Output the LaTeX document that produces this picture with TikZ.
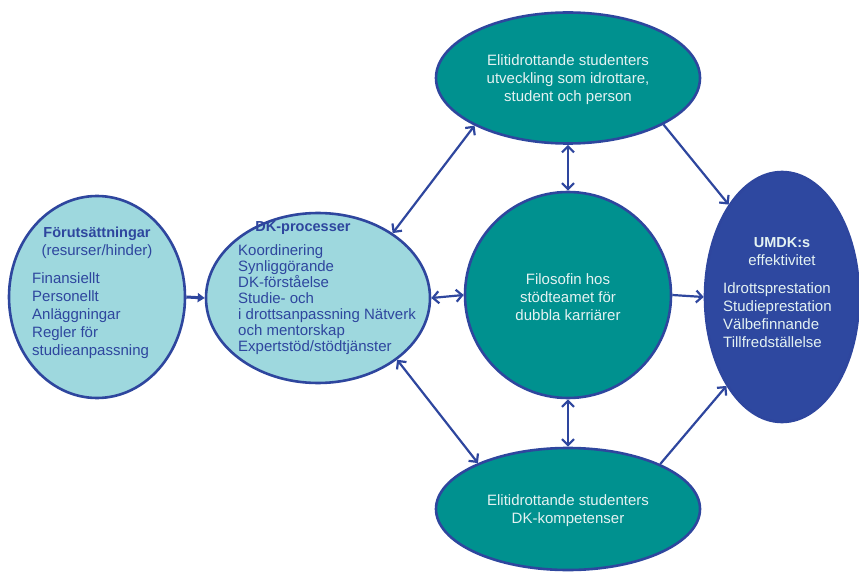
\documentclass[tikz,border=0pt]{standalone}
\usepackage{fontspec}
\setmainfont{Liberation Sans}
\usetikzlibrary{shapes.geometric,arrows.meta}

\definecolor{edgeblue}{RGB}{46,70,158}
\definecolor{lightfill}{RGB}{158,216,222}
\definecolor{tealfill}{RGB}{0,145,143}
\definecolor{deepblue}{RGB}{46,72,160}
\definecolor{paletext}{RGB}{228,242,242}

\newcommand{\plainline}{\fontsize{15}{18}\selectfont\mdseries}

\tikzset{
  blob/.style={ellipse, draw=edgeblue, line width=2.6pt, inner sep=0pt},
  lightblob/.style={blob, fill=lightfill},
  tealblob/.style={blob, fill=tealfill},
  deepblob/.style={blob, fill=deepblue},
  darktxt/.style={text=edgeblue, inner sep=0pt, font=\fontsize{15}{18}\selectfont},
  paletxt/.style={text=paletext, inner sep=0pt, font=\fontsize{15}{18}\selectfont, align=center},
  head/.style={font=\fontsize{14.5}{18}\selectfont\bfseries},
  link/.style={draw=edgeblue, line width=2.2pt, {Straight Barb[length=6pt,width=12pt]}-{Straight Barb[length=6pt,width=12pt]}},
  oneway/.style={draw=edgeblue, line width=2.2pt, -{Straight Barb[length=6pt,width=12pt]}},
  feed/.style={draw=edgeblue, line width=3pt, -{Triangle[length=7pt,width=9pt]}}
}

\begin{document}
\begin{tikzpicture}[x=1pt,y=-1pt]
\useasboundingbox (0,0) rectangle (859,572);

% shapes
\node[lightblob, minimum width=176pt, minimum height=202pt] (pre) at (97,297) {};
\node[lightblob, minimum width=224pt, minimum height=170pt] (dk) at (318,298) {};
\node[tealblob, minimum width=264pt, minimum height=131pt] (dev) at (568,78) {};
\node[tealblob, minimum width=264pt, minimum height=122pt] (comp) at (568,509) {};
\node[circle, draw=edgeblue, line width=2.6pt, fill=tealfill, minimum size=206pt, inner sep=0pt] (phil) at (568,295) {};
\node[deepblob, minimum width=154pt, minimum height=250pt] (eff) at (782,297) {};

% texts
\node[darktxt, head, align=center] (preh) at (97,243) {Förutsättningar\\\plainline(resurser/hinder)};
\node[darktxt, align=left, anchor=west] (prel) at (32,316) {Finansiellt\\Personellt\\Anläggningar\\Regler för\\studieanpassning};

\node[darktxt, head] (dkh) at (303,228) {DK-processer};
\node[darktxt, align=left, anchor=west, font=\fontsize{15}{16}\selectfont] (dkl) at (238,300)
  {Koordinering\\Synliggörande\\DK-förståelse\\Studie- och\\i drottsanpassning Nätverk\\och mentorskap\\Expertstöd/stödtjänster};

\node[paletxt] (devt) at (568,80) {Elitidrottande studenters\\utveckling som idrottare,\\student och person};
\node[paletxt] (philt) at (568,297) {Filosofin hos\\stödteamet för\\dubbla karriärer};
\node[paletxt] (compt) at (568,511) {Elitidrottande studenters\\DK-kompetenser};

\node[paletxt, head] (effh) at (782,252) {UMDK:s\\\plainline effektivitet};
\node[paletxt, align=left, anchor=west] (effl) at (723,315) {Idrottsprestation\\Studieprestation\\Välbefinnande\\Tillfredställelse};

% connectors
\draw[feed] (pre.east) -- (dk.west);
\draw[link] (dk.east) -- (phil.west);
\draw[oneway] (phil.east) -- (eff.west);
\draw[link] (dk.41) -- (dev.207);
\draw[link] (dk.-38) -- (comp.153);
\draw[link] (dev.south) -- (phil.north);
\draw[link] (comp.north) -- (phil.south);
\draw[oneway] (dev.-26) -- (eff.120);
\draw[oneway] (comp.26) -- (eff.238);
\end{tikzpicture}
\end{document}
